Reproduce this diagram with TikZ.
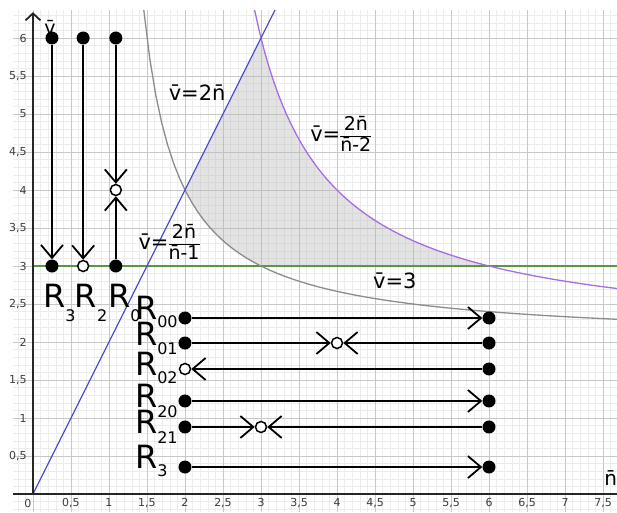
\documentclass[tikz,border=0pt]{standalone}
\usepackage{fontspec}
\setmainfont{DejaVu Sans}
\usetikzlibrary{arrows.meta}
\definecolor{gmaj}{RGB}{200,200,200}
\definecolor{gmin}{RGB}{236,236,236}
\definecolor{cblue}{RGB}{80,80,200}
\definecolor{cpurp}{RGB}{165,110,225}
\definecolor{cgray}{RGB}{140,140,140}
\definecolor{cgreen}{RGB}{90,150,70}
\definecolor{tick}{RGB}{60,60,60}
\newcommand\fr[2]{{\fontsize{19}{19}\selectfont\setlength\arrayrulewidth{1.3pt}\renewcommand\arraystretch{0.95}\begin{tabular}{@{}c@{}}#1\\\hline #2\end{tabular}}}
\newcommand\Rl[2]{{\fontsize{32}{32}\selectfont R}\raisebox{#2}{\fontsize{16}{16}\selectfont #1}}
\begin{document}
\begin{tikzpicture}[x=76pt,y=76pt,
  dot/.style={circle,fill=black,inner sep=0pt,minimum size=13pt},
  odot/.style={circle,draw=black,line width=1.5pt,fill=white,inner sep=0pt,minimum size=11pt},
  arr/.style={line width=2.2pt,-{Straight Barb[length=13pt,width=22pt,line width=1.8pt]}},
  axisl/.style={line width=1.8pt,black!85},
  curve/.style={line width=1.3pt},
  tl/.style={inner sep=0pt,text=tick,font=\fontsize{11}{11}\selectfont},
  rl/.style={inner sep=0pt,anchor=base west},
  cl/.style={inner sep=0pt,font=\fontsize{21}{21}\selectfont}]
\useasboundingbox (-0.434,-0.237) rectangle (7.684,6.5);
% grid
\draw[gmin,line width=0.5pt,step=0.1] (-0.263,-0.237) grid (7.684,6.368);
\draw[gmaj,line width=0.8pt,step=0.5] (-0.263,-0.237) grid (7.684,6.368);
% shaded region
\fill[black!28,fill opacity=0.4] (2,4) -- (3,6)
  -- plot[domain=3:6,samples=40] (\x,{2*\x/(\x-2)})
  -- (3,3) -- plot[domain=3:2,samples=20] (\x,{2*\x/(\x-1)}) -- cycle;
% curves
\draw[curve,cgreen] (0,3) -- (7.684,3);
\draw[curve,cgray] plot[domain=1.458:7.684,samples=80] (\x,{2*\x/(\x-1)});
\draw[curve,cpurp] plot[domain=2.916:7.684,samples=80] (\x,{2*\x/(\x-2)});
\draw[curve,cblue] (0,0) -- (3.184,6.368);
% axes
\draw[axisl] (-0.263,0) -- (7.72,0);
\draw[axisl,-{Straight Barb[length=7pt,width=15pt]}] (0,0) -- (0,6.34);
% tick labels
\foreach \x/\l in {0.5/{0,5},1/1,1.5/{1,5},2/2,2.5/{2,5},3/3,3.5/{3,5},4/4,4.5/{4,5},5/5,5.5/{5,5},6/6,6.5/{6,5},7/7,7.5/{7,5}}
  \node[tl,anchor=north] at (\x,-0.053) {\l};
\foreach \y/\l in {0.5/{0,5},1/1,1.5/{1,5},2/2,2.5/{2,5},3/3,3.5/{3,5},4/4,4.5/{4,5},5/5,5.5/{5,5},6/6}
  \node[tl,anchor=east] at (-0.08,\y) {\l};
\node[tl] (zero) at (-0.066,-0.118) {0};
\node[inner sep=0pt,font=\fontsize{19}{19}\selectfont] (vax) at (0.224,6.14) {v̄};
\node[inner sep=0pt,font=\fontsize{20}{20}\selectfont] (nax) at (7.60,0.21) {n̄};
% curve labels
\node[cl] (l1) at (2.16,5.28) {v̄=2n̄};
\node[cl] (l2) at (4.05,4.70) {v̄=\fr{2n̄}{n̄-2}};
\node[cl] (l3) at (1.79,3.28) {v̄=\fr{2n̄}{n̄-1}};
\node[cl] (l4) at (4.76,2.80) {v̄=3};
% vertical phase lines
\node[dot] (a3t) at (0.25,6) {};
\node[dot] (a3b) at (0.25,3) {};
\node[dot] (a2t) at (0.66,6) {};
\node[odot] (a2b) at (0.66,3) {};
\node[dot] (a0t) at (1.09,6) {};
\node[odot] (a0m) at (1.09,4) {};
\node[dot] (a0b) at (1.09,3) {};
\draw[arr] (a3t) -- (a3b);
\draw[arr] (a2t) -- (a2b);
\draw[arr] (a0t) -- (a0m);
\draw[arr] (a0b) -- (a0m);
% horizontal phase lines
\node[dot] (b00l) at (2,2.316) {};
\node[dot] (b00r) at (6,2.316) {};
\draw[arr] (b00l) -- (b00r);
\node[dot] (b01l) at (2,1.987) {};
\node[odot] (b01m) at (4,1.987) {};
\node[dot] (b01r) at (6,1.987) {};
\draw[arr] (b01l) -- (b01m);
\draw[arr] (b01r) -- (b01m);
\node[odot] (b02l) at (2,1.645) {};
\node[dot] (b02r) at (6,1.645) {};
\draw[arr] (b02r) -- (b02l);
\node[dot] (b20l) at (2,1.224) {};
\node[dot] (b20r) at (6,1.224) {};
\draw[arr] (b20l) -- (b20r);
\node[dot] (b21l) at (2,0.882) {};
\node[odot] (b21m) at (3,0.882) {};
\node[dot] (b21r) at (6,0.882) {};
\draw[arr] (b21l) -- (b21m);
\draw[arr] (b21r) -- (b21m);
\node[dot] (b3l) at (2,0.355) {};
\node[dot] (b3r) at (6,0.355) {};
\draw[arr] (b3l) -- (b3r);
% R labels
\node[rl] (r3t) at (0.13,2.46) {\Rl{3}{-14pt}};
\node[rl] (r2t) at (0.55,2.46) {\Rl{2}{-14pt}};
\node[rl] (r0t) at (0.985,2.46) {\Rl{0}{-14pt}};
\node[rl] (r00) at (1.34,2.29) {\Rl{00}{-8pt}};
\node[rl] (r01) at (1.34,1.96) {\Rl{01}{-9pt}};
\node[rl] (r02) at (1.34,1.566) {\Rl{02}{-8pt}};
\node[rl] (r20) at (1.34,1.145) {\Rl{20}{-10pt}};
\node[rl] (r21) at (1.34,0.80) {\Rl{21}{-10pt}};
\node[rl] (r3) at (1.34,0.342) {\Rl{3}{-8pt}};
\end{tikzpicture}
\end{document}
